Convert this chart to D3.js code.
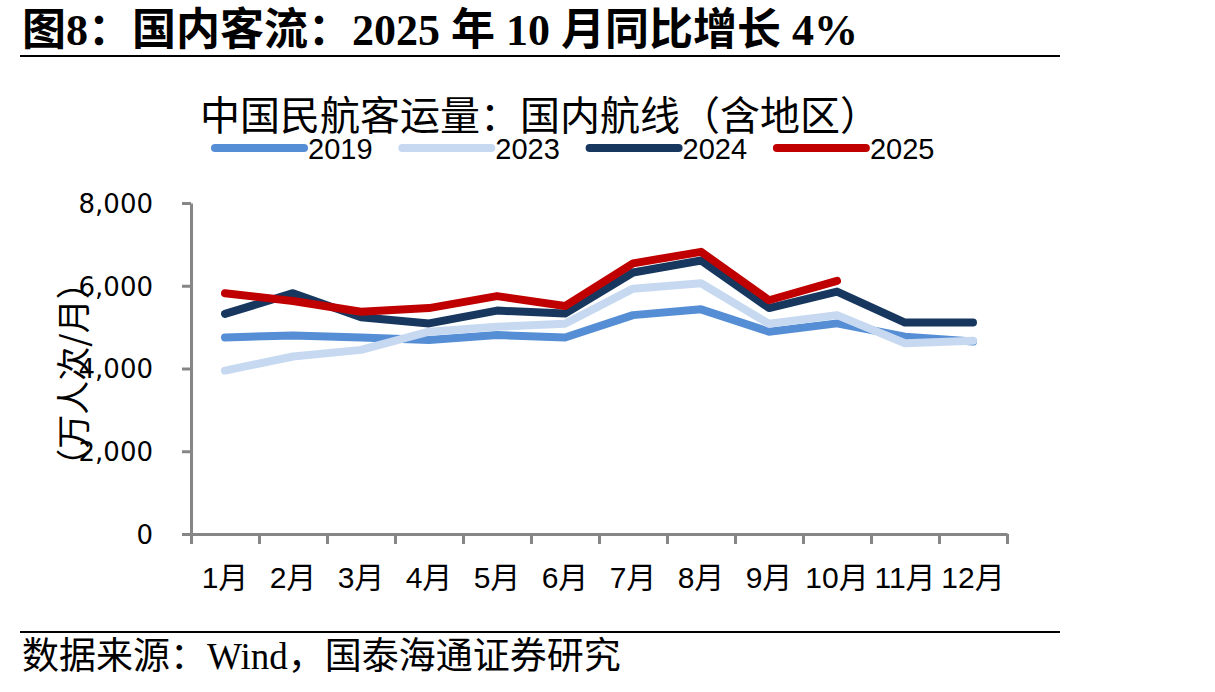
<!DOCTYPE html>
<html>
<head>
<meta charset="utf-8">
<script src="https://cdn.jsdelivr.net/npm/d3@7"></script>
<style>
  body { margin: 0; background: #fff; }
  svg { display: block; }
</style>
</head>
<body>
<script>
// data (万人次/月)
var months = ["1月", "2月", "3月", "4月", "5月", "6月", "7月", "8月", "9月", "10月", "11月", "12月"];
var years = ["2019", "2023", "2024", "2025"];
var v2019 = [4750, 4800, 4750, 4690, 4810, 4750, 5290, 5430, 4890, 5090, 4770, 4650];
var v2023 = [3950, 4290, 4450, 4890, 5010, 5080, 5930, 6060, 5080, 5290, 4610, 4670];
var v2024 = [5320, 5820, 5240, 5090, 5400, 5330, 6320, 6610, 5460, 5860, 5110, 5110];
var v2025 = [5820, 5630, 5370, 5460, 5750, 5510, 6540, 6820, 5650, 6120];
var yTicks = [0, 2000, 4000, 6000, 8000];
var colors = ["#558ED5", "#C6D9F1", "#17375E", "#C00000"];

var series = [v2019, v2023, v2024, v2025].map(function (vals, i) {
    return {name: years[i], color: colors[i], values: vals};
});

var W = 1215, H = 692;
var plotLeft = 191, plotRight = 1007, plotTop = 203, plotBottom = 534;

var svg = d3.select("body").append("svg")
    .attr("width", W)
    .attr("height", H);

var x = d3.scaleBand().domain(months).range([plotLeft, plotRight]).padding(0);
var xEdge = d3.scaleLinear().domain([0, months.length]).range([plotLeft, plotRight]);
var y = d3.scaleLinear().domain([0, 8000]).range([plotBottom, plotTop]);

// header
svg.append("text")
    .attr("x", 22)
    .attr("y", 45)
    .attr("font-family", "'Liberation Serif', 'Noto Sans CJK SC'")
    .attr("font-weight", "bold")
    .attr("font-size", 44)
    .text("图8：国内客流：2025 年 10 月同比增长 4%");

svg.append("line")
    .attr("x1", 20).attr("x2", 1060)
    .attr("y1", 56).attr("y2", 56)
    .attr("stroke", "#000").attr("stroke-width", 2);

// chart title
svg.append("text")
    .attr("x", 200)
    .attr("y", 130)
    .attr("font-family", "'Noto Sans CJK SC'")
    .attr("font-size", 40)
    .text("中国民航客运量：国内航线（含地区）");

// legend
var leg = svg.selectAll(".leg")
    .data(series)
    .enter().append("g")
    .attr("class", "leg")
    .attr("transform", function (d, i) { return "translate(" + (215 + i * 187.3) + ",148)"; });

leg.append("line")
    .attr("x1", 0).attr("x2", 89)
    .attr("stroke", function (d) { return d.color; })
    .attr("stroke-width", 8)
    .attr("stroke-linecap", "round");

leg.append("text")
    .attr("x", 93)
    .attr("y", 11)
    .attr("font-family", "'Liberation Sans', Arial")
    .attr("font-size", 29)
    .text(function (d) { return d.name; });

// axes
var gy = svg.append("g")
    .attr("transform", "translate(" + plotLeft + ",0)")
    .call(d3.axisLeft(y).tickValues(yTicks).tickSize(9).tickSizeOuter(0).tickFormat(d3.format(",")));

var gx = svg.append("g")
    .attr("transform", "translate(0," + plotBottom + ")")
    .call(d3.axisBottom(xEdge).ticks(12).tickSize(10).tickSizeOuter(0).tickFormat(""));

var gxl = svg.append("g")
    .attr("transform", "translate(0," + plotBottom + ")")
    .call(d3.axisBottom(x).tickSize(0));
gxl.select(".domain").remove();

[gy, gx].forEach(function (g) {
    g.selectAll("path, line").attr("stroke", "#868686").attr("stroke-width", 3);
});

gy.selectAll("text")
    .attr("x", -38)
    .attr("dy", "0.36em")
    .attr("font-family", "'DejaVu Sans', Verdana")
    .attr("font-size", 26)
    .attr("fill", "#000");

gxl.selectAll("text")
    .attr("y", 54)
    .attr("dy", 0)
    .attr("font-family", "'Liberation Sans', Arial, 'Noto Sans CJK SC'")
    .attr("font-size", 30)
    .attr("fill", "#000");

// y axis title
svg.append("text")
    .attr("transform", "translate(86,374) rotate(-90)")
    .attr("text-anchor", "middle")
    .attr("font-family", "'Noto Sans CJK SC'")
    .attr("font-size", 34)
    .text("（万人次/月）");

// lines
var line = d3.line()
    .x(function (d, i) { return x(months[i]) + x.bandwidth() / 2; })
    .y(function (d) { return y(d); });

svg.selectAll(".series")
    .data(series)
    .enter().append("path")
    .attr("class", "series")
    .attr("d", function (d) { return line(d.values); })
    .attr("fill", "none")
    .attr("stroke", function (d) { return d.color; })
    .attr("stroke-width", 8)
    .attr("stroke-linecap", "round")
    .attr("stroke-linejoin", "round");

// footer
svg.append("line")
    .attr("x1", 20).attr("x2", 1060)
    .attr("y1", 632).attr("y2", 632)
    .attr("stroke", "#000").attr("stroke-width", 2);

svg.append("text")
    .attr("x", 22)
    .attr("y", 669)
    .attr("font-family", "'Liberation Serif', 'Noto Sans CJK SC'")
    .attr("font-size", 37)
    .text("数据来源：Wind，国泰海通证券研究");
</script>
</body>
</html>
